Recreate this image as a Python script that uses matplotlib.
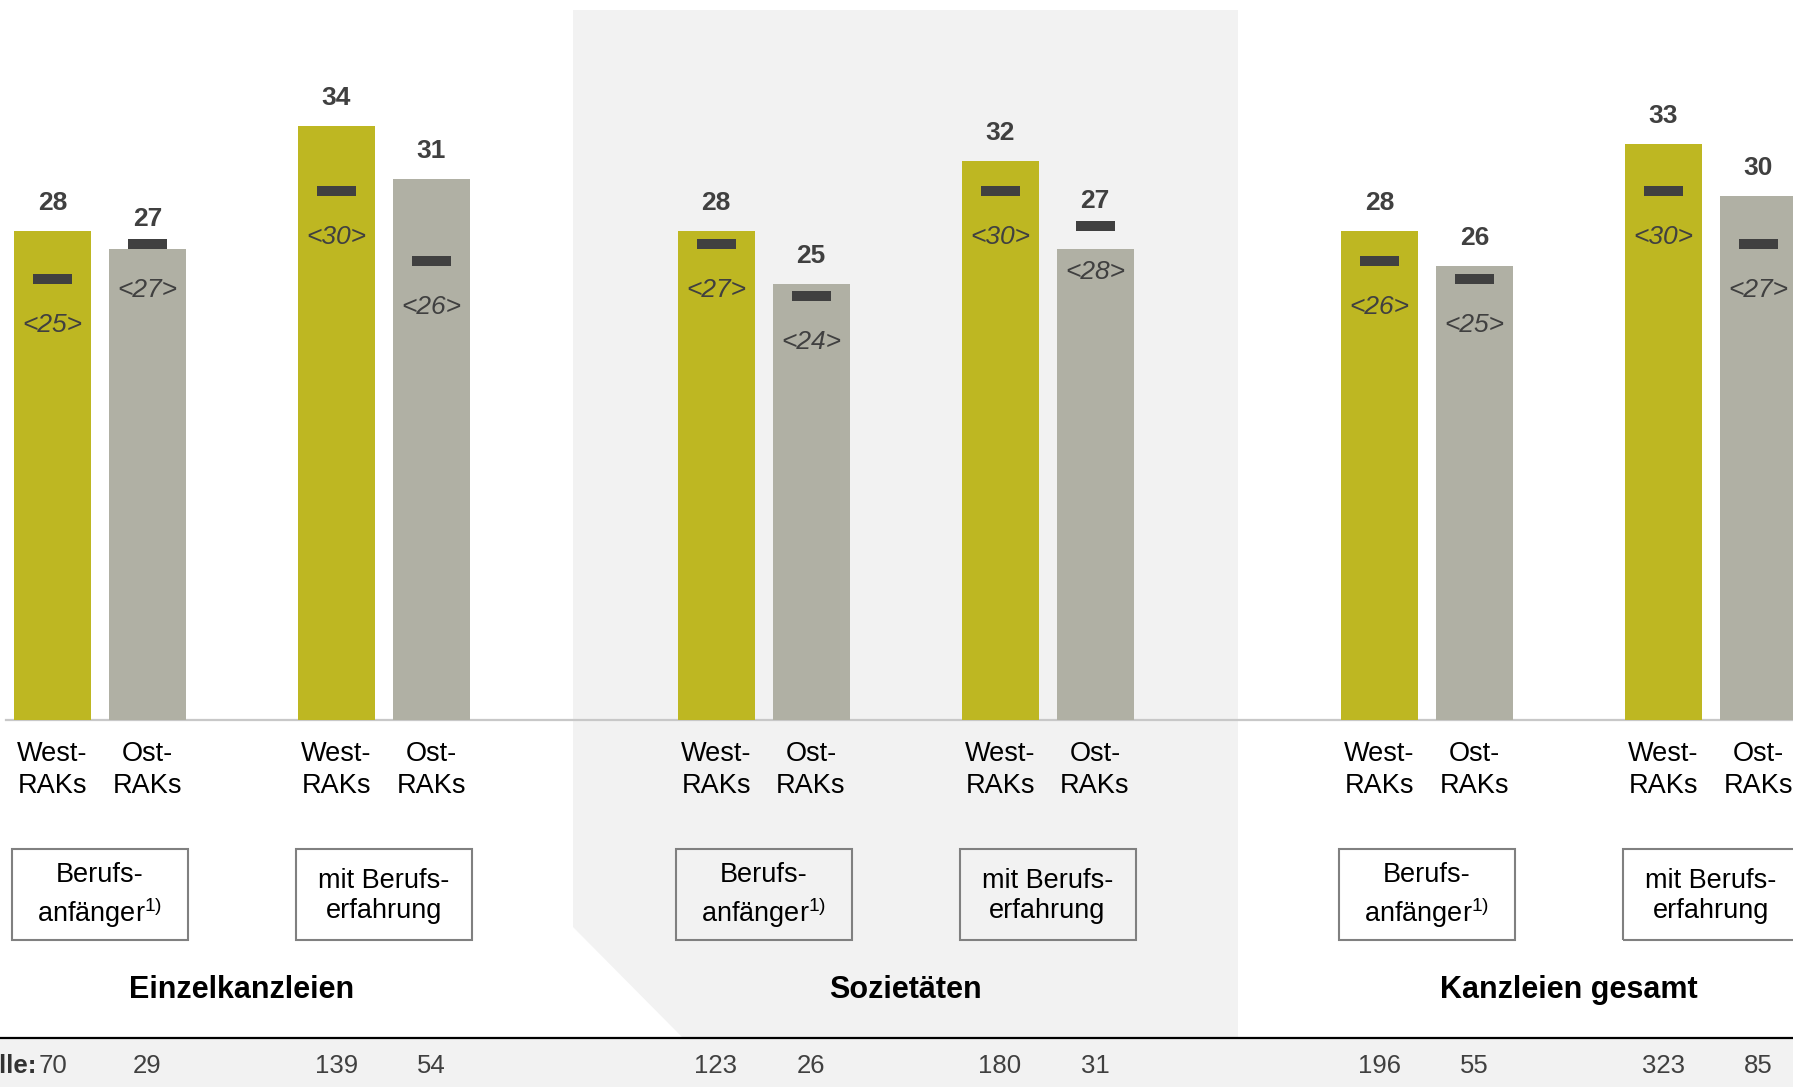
import numpy as np
import matplotlib
matplotlib.use("Agg")
import matplotlib.pyplot as plt
from matplotlib.patches import Rectangle, Polygon

plt.rcParams['font.family'] = ['Liberation Sans', 'DejaVu Sans']
plt.rcParams['mathtext.fontset'] = 'custom'
plt.rcParams['mathtext.rm'] = 'Liberation Sans'
plt.rcParams['mathtext.it'] = 'Liberation Sans:italic'
plt.rcParams['mathtext.bf'] = 'Liberation Sans:bold'

# data
groups = ["Einzelkanzleien", "Sozietäten", "Kanzleien gesamt"]
experience = ["Berufs-\nanfänger$^{1)}$", "mit Berufs-\nerfahrung"]
regions = ["West-\nRAKs", "Ost-\nRAKs"]
mean_west = [28, 34, 28, 32, 28, 33]
mean_ost = [27, 31, 25, 27, 26, 30]
median_west = [25, 30, 27, 30, 26, 30]
median_ost = [27, 26, 24, 28, 25, 27]
n_west = [70, 139, 123, 180, 196, 323]
n_ost = [29, 54, 26, 31, 55, 85]

W, H = 1793, 1087
base = 720      # pixel row of the zero line
unit = 17.46    # pixels per value unit
mark_h = 10 / unit

def yd(row):
    # pixel row (from top) -> data y
    return (base - row) / unit

olive = '#BEB722'
grey = '#B0B0A4'
dark = '#404040'

fig = plt.figure(figsize=(W / 100, H / 100), dpi=100)
ax = fig.add_axes([0, 0, 1, 1])
ax.set_xlim(0, W)
ax.set_ylim(yd(H), yd(0))
ax.axis('off')

# shaded middle panel + bottom strip
ax.add_patch(Polygon([(573, yd(10)), (1238, yd(10)), (1238, yd(1037)),
                      (682, yd(1037)), (573, yd(927))],
                     closed=True, color='#F2F2F2', lw=0, zorder=0))
ax.add_patch(Rectangle((0, yd(H)), W, yd(1038) - yd(H), color='#F2F2F2', lw=0, zorder=0))
ax.plot([0, W], [yd(1038), yd(1038)], color='black', lw=1.6, zorder=1)

pair_x = np.array([52.5 + 663.5 * s + 284 * p for s in range(3) for p in range(2)])
xw = pair_x
xo = pair_x + 95

ax.plot([6, W], [0, 0], color='#C8C8C8', lw=1.6, zorder=1)

ax.bar(xw, mean_west, width=77, color=olive, zorder=2)
ax.bar(xo, mean_ost, width=77, color=grey, zorder=2)
ax.bar(xw, mark_h, bottom=median_west, width=39, color=dark, zorder=3)
ax.bar(xo, mark_h, bottom=median_ost, width=39, color=dark, zorder=3)

for xs, means, meds, ns in [(xw, mean_west, median_west, n_west),
                            (xo, mean_ost, median_ost, n_ost)]:
    for x, v, m, n in zip(xs, means, meds, ns):
        ly = max(v + 28 / unit, m + mark_h + 20 / unit)
        ax.text(x, ly, str(v), ha='center', va='center',
                fontsize=19, fontweight='bold', color=dark, zorder=4)
        ax.text(x, m - 41 / unit, "<%d>" % m, ha='center', va='center',
                fontsize=19, style='italic', color=dark, zorder=4)
        ax.text(x, yd(1066), str(n), ha='center', va='center',
                fontsize=18.5, color=dark, zorder=4)

for k, xs in enumerate([xw, xo]):
    for x in xs:
        ax.text(x, yd(770), regions[k], ha='center', va='center',
                fontsize=19.5, color='black', linespacing=1.3)

for i, cx in enumerate(pair_x + 47.5):
    ax.add_patch(Rectangle((cx - 88, yd(940)), 176, 91 / unit, fill=False,
                           ec='#808080', lw=1.5, zorder=3))
    ax.text(cx, yd(896), experience[i % 2], ha='center', va='center',
            fontsize=19.5, color='black', linespacing=1.25)

for s, g in enumerate(groups):
    ax.text(242 + 663.5 * s, yd(990), g, ha='center', va='center',
            fontsize=22, fontweight='bold', color='black')

ax.text(xw[0] - 16, yd(1066), "Fälle:", ha='right', va='center',
        fontsize=18.5, fontweight='bold', color='#333333')

fig.savefig("out.png", dpi=100)
